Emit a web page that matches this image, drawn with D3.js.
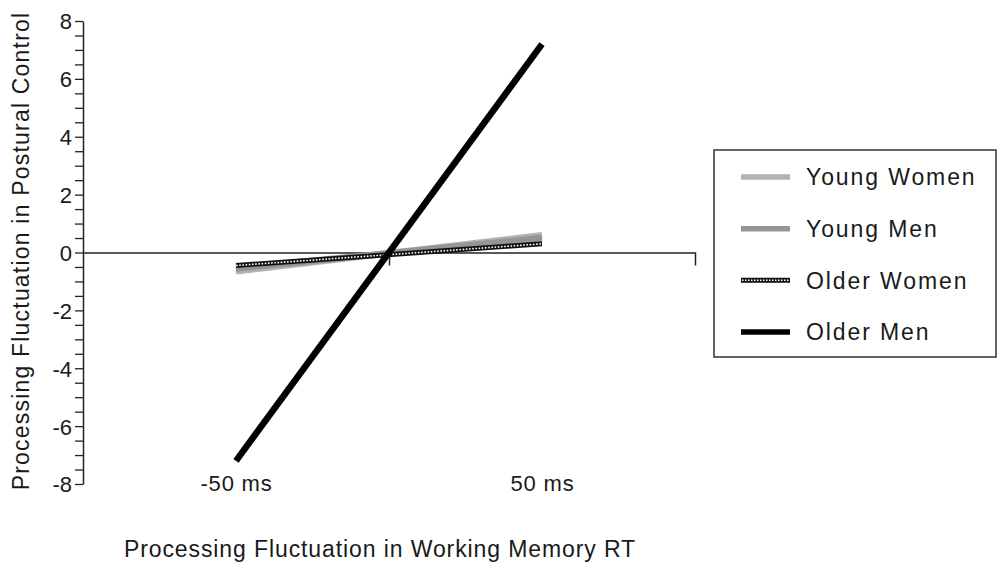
<!DOCTYPE html>
<html>
<head>
<meta charset="utf-8">
<script src="https://cdn.jsdelivr.net/npm/d3@7"></script>
<style>
  html, body { margin: 0; padding: 0; background: #fff; }
  svg { display: block; }
  text { font-family: "Liberation Sans", Arial, Helvetica, sans-serif; fill: #1a1a1a; }
</style>
</head>
<body>
<svg id="chart" width="997" height="562"></svg>
<script>
// Simple slopes: predicted postural-control fluctuation at -50 / +50 ms of working-memory RT fluctuation
const groups = ["Young Women", "Young Men", "Older Women", "Older Men"];
const xPoints = [-50, 50];
const youngWomen = [-0.65, 0.6];
const youngMen = [-0.55, 0.5];
const olderWomen = [-0.45, 0.3];
const olderMen = [-7.2, 7.2];
const yTickLabels = [-8, -6, -4, -2, 0, 2, 4, 6, 8];
const xTickLabels = ["-50 ms", "50 ms"];

const seriesValues = [youngWomen, youngMen, olderWomen, olderMen];
const styles = {
  "Young Women": { color: "#b3b3b3", width: 6.5, dotted: false },
  "Young Men":   { color: "#959595", width: 6.5, dotted: false },
  "Older Women": { color: "#111",    width: 5, dotted: true },
  "Older Men":   { color: "#000",    width: 6.5, dotted: false }
};

const svg = d3.select("#chart");
const x = d3.scaleLinear().domain([-100, 100]).range([83, 695]);
const y = d3.scaleLinear().domain([-8, 8]).range([484, 21]);

// y axis with half-unit minor ticks, labels on even values
const yAxis = d3.axisLeft(y)
  .tickValues(d3.range(-8, 8.001, 0.5))
  .tickFormat(d => yTickLabels.includes(d) ? String(d) : "")
  .tickSize(8).tickSizeOuter(0).tickPadding(3);
const gy = svg.append("g").attr("transform", "translate(83,0)").call(yAxis);
gy.select(".domain").attr("stroke", "#222").attr("stroke-width", 1.5);
gy.selectAll(".tick line").attr("stroke", "#222").attr("stroke-width", 1.3);
gy.selectAll(".tick text").style("font-size", "22px").attr("fill", "#1a1a1a").attr("dy", "0.36em");

// zero line acting as the x axis
const xAxis = d3.axisBottom(x).tickValues([0, 100]).tickFormat("").tickSize(13).tickSizeOuter(0);
const gx = svg.append("g").attr("transform", `translate(0,${y(0)})`).call(xAxis);
gx.select(".domain").attr("stroke", "#222").attr("stroke-width", 1.5);
gx.selectAll(".tick line").attr("stroke", "#222").attr("stroke-width", 1.5);

// category labels under the plot
const xLab = d3.axisBottom(x).tickValues(xPoints)
  .tickFormat((d, i) => xTickLabels[i]).tickSize(0).tickPadding(0);
const gl = svg.append("g").attr("transform", "translate(0,475)").call(xLab);
gl.select(".domain").remove();
gl.selectAll(".tick text").style("font-size", "22px").style("letter-spacing", "0.8px").attr("fill", "#1a1a1a");

// regression lines
const line = d3.line().x((d, i) => x(xPoints[i])).y(d => y(d));
groups.forEach((g, gi) => {
  const s = styles[g];
  svg.append("path").datum(seriesValues[gi])
    .attr("d", line).attr("fill", "none")
    .attr("stroke", s.color).attr("stroke-width", s.width).attr("stroke-linecap", "butt");
  if (s.dotted) {
    svg.append("path").datum(seriesValues[gi])
      .attr("d", line).attr("fill", "none")
      .attr("stroke", "#fff").attr("stroke-width", 1.6).attr("stroke-dasharray", "1.6,1.6");
  }
});

// axis titles
svg.append("text")
  .attr("x", 380).attr("y", 557).attr("text-anchor", "middle")
  .style("font-size", "23px").style("letter-spacing", "0.9px")
  .text("Processing Fluctuation in Working Memory RT");
svg.append("text")
  .attr("transform", "translate(29,251) rotate(-90)").attr("text-anchor", "middle")
  .style("font-size", "23px").style("letter-spacing", "1.2px")
  .text("Processing Fluctuation in Postural Control");

// legend
const lg = svg.append("g");
lg.append("rect").attr("x", 714).attr("y", 150).attr("width", 282).attr("height", 207)
  .attr("fill", "#fff").attr("stroke", "#333").attr("stroke-width", 1.5);
const rowY = d3.scalePoint().domain(groups).range([177, 332]);
groups.forEach(g => {
  const s = styles[g];
  const yy = rowY(g);
  lg.append("line").attr("x1", 741).attr("x2", 790).attr("y1", yy).attr("y2", yy)
    .attr("stroke", s.color).attr("stroke-width", s.dotted ? 5 : 5.5);
  if (s.dotted) {
    lg.append("line").attr("x1", 742).attr("x2", 789).attr("y1", yy).attr("y2", yy)
      .attr("stroke", "#fff").attr("stroke-width", 1.5).attr("stroke-dasharray", "1.5,1.5");
  }
  lg.append("text").attr("x", 806).attr("y", yy).attr("dy", "0.36em")
    .style("font-size", "23px").style("letter-spacing", "1.9px")
    .text(g);
});
</script>
</body>
</html>
